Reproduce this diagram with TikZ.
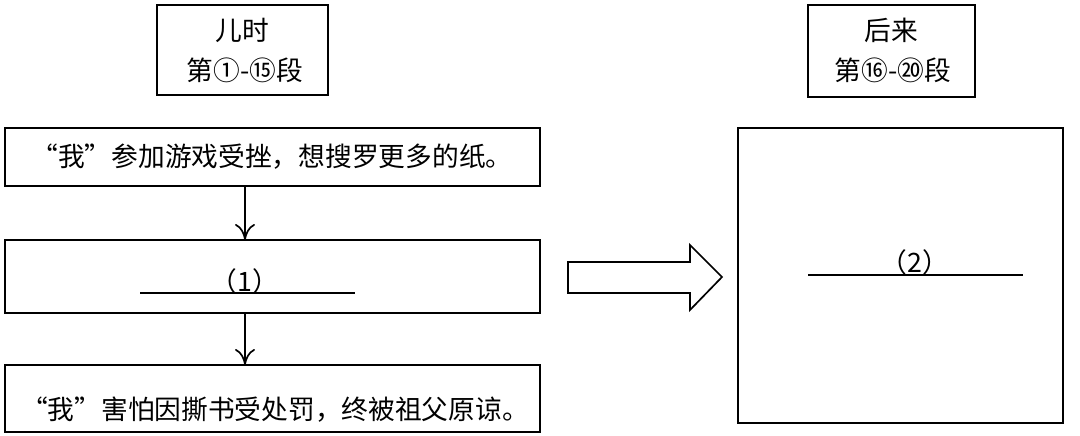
\documentclass[tikz,border=0pt]{standalone}
\usepackage{fontspec}
\setmainfont{Noto Sans CJK SC}
\usetikzlibrary{positioning,arrows.meta}
\tikzset{
	box/.style={draw,line width=1.2pt,inner sep=0pt},
	txt/.style={font=\fontsize{19}{22}\selectfont,inner sep=0pt},
	arr/.style={-{To[length=4mm,width=5mm]},line width=1.2pt}
}
\begin{document}
\begin{tikzpicture}[x=0.025cm,y=-0.025cm]
	\useasboundingbox (0,0) rectangle (1080,435);
	% header boxes
	\draw[box] (157,5) rectangle (328,95);
	\node[txt] (childA) at (242.5,30) {儿时};
	\node[txt] (childB) at (245,70) {第①-⑮段};
	\draw[box] (808,5) rectangle (975,97);
	\node[txt] (laterA) at (891,30) {后来};
	\node[txt] (laterB) at (893,70) {第⑯-⑳段};
	% left column
	\draw[box] (5,128) rectangle (540,186);
	\node[txt] (stepA) at (272,157) {“我”参加游戏受挫，想搜罗更多的纸。};
	\draw[box] (5,240) rectangle (540,313);
	\node[txt] (blankA) at (245,281) {（1）};
	\draw[line width=1pt] (140,293) -- (355,293);
	\draw[box] (5,365) rectangle (540,432);
	\node[txt] (stepC) at (275,410) {“我”害怕因撕书受处罚，终被祖父原谅。};
	\coordinate (a1) at (245,186);
	\coordinate (a2) at (245,240);
	\coordinate (a3) at (245,313);
	\coordinate (a4) at (245,365);
	\draw[arr] (a1) -- (a2);
	\draw[arr] (a3) -- (a4);
	% big hollow arrow
	\draw[line width=1.2pt,line join=miter] (568,262) -- (690,262) -- (690,245) -- (722,277)
		-- (690,310) -- (690,293) -- (568,293) -- cycle;
	% right box
	\draw[box] (738,128) rectangle (1063,423);
	\node[txt] (blankB) at (915,262) {（2）};
	\draw[line width=1pt] (808,275) -- (1023,275);
\end{tikzpicture}
\end{document}
